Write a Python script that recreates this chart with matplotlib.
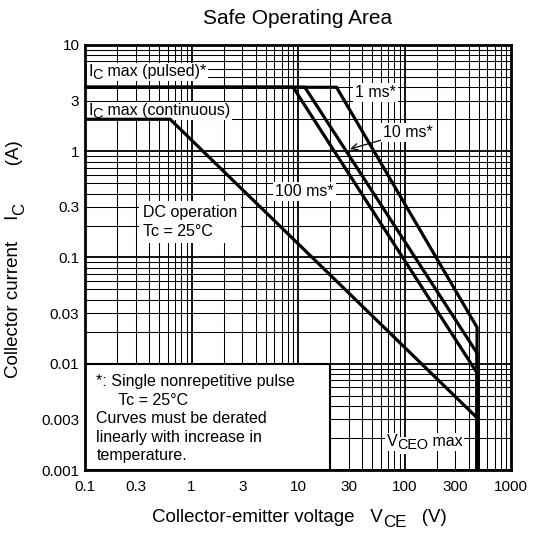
import matplotlib
matplotlib.use("Agg")
import matplotlib.pyplot as plt
from matplotlib.patches import Rectangle

plt.rcParams['font.family'] = ['Liberation Sans', 'DejaVu Sans']

# SOA curves (V_CE in V, I_C in A)
dc_v = [0.1, 0.63, 480, 480]
dc_i = [2.0, 2.0, 0.0031, 0.001]
p100_v = [0.1, 9.0, 480, 480]
p100_i = [4.0, 4.0, 0.0082, 0.001]
p10_v = [0.1, 11.6, 480, 480]
p10_i = [4.0, 4.0, 0.0126, 0.001]
p1_v = [0.1, 23.0, 480, 480]
p1_i = [4.0, 4.0, 0.022, 0.001]

x_ticks = [0.1, 0.3, 1, 3, 10, 30, 100, 300, 1000]
x_labels = ['0.1', '0.3', '1', '3', '10', '30', '100', '300', '1000']
y_ticks = [0.001, 0.003, 0.01, 0.03, 0.1, 0.3, 1, 3, 10]
y_labels = ['0.001', '0.003', '0.01', '0.03', '0.1', '0.3', '1', '3', '10']

fig = plt.figure(figsize=(5.33, 5.40), dpi=100)
ax = fig.add_axes([85 / 533, 1 - 470 / 540, 426 / 533, 425 / 540])
ax.set_xscale('log')
ax.set_yscale('log')
ax.set_xlim(0.1, 1000)
ax.set_ylim(0.001, 10)

# log grid: decades heavier than the 2..9 lines
for dec in [0.1, 1, 10, 100]:
    for m in range(1, 10):
        ax.axvline(dec * m, color='black', lw=1.3 if m == 1 else 0.75, zorder=1)
for dec in [0.001, 0.01, 0.1, 1]:
    for m in range(1, 10):
        ax.axhline(dec * m, color='black', lw=1.3 if m == 1 else 0.75, zorder=1)

# note box hides the grid in the lower left corner
ax.add_patch(Rectangle((0.1, 0.001), 20 - 0.1, 0.01 - 0.001, facecolor='white',
                       edgecolor='black', lw=1.5, zorder=3))

for v, i in [(dc_v, dc_i), (p100_v, p100_i), (p10_v, p10_i), (p1_v, p1_i)]:
    ax.plot(v, i, color='black', lw=2.3, solid_joinstyle='miter', zorder=7)

box = dict(facecolor='white', edgecolor='none', pad=1.5)
fs = 11.5


def chained(first, parts, size, vertical=False, bg=None, z=6.0):
    # put text pieces one after another; (text, drop) drop in points lowers a subscript
    prev, drop_prev = first, 0
    for k, (s, drop) in enumerate(parts):
        fsz = size * 0.9 if drop else size
        zz = z - 0.01 * (k + 1)
        if vertical:
            prev = ax.annotate(s, xy=(1, 1), xycoords=prev, xytext=(drop - drop_prev, 0),
                               textcoords='offset points', ha='right', va='bottom',
                               rotation=90, fontsize=fsz, annotation_clip=False, zorder=zz)
        else:
            prev = ax.annotate(s, xy=(1, 0), xycoords=prev, xytext=(0, drop_prev - drop),
                               textcoords='offset points', ha='left', va='bottom',
                               fontsize=fsz, annotation_clip=False, bbox=bg, zorder=zz)
        drop_prev = drop
    return prev


def plot_label(x, y, base, parts):
    bg = dict(facecolor='white', edgecolor='none', pad=1.0)
    t = ax.text(x, y, base, fontsize=fs, va='center', bbox=bg, zorder=6)
    chained(t, parts, fs, bg=bg)


plot_label(0.107, 5.6, 'I', [('C', 2), (' max (pulsed)*', 0)])
plot_label(0.107, 2.4, 'I', [('C', 2), (' max (continuous)', 0)])
plot_label(68, 0.00184, 'V', [('CEO', 2), (' max', 0)])
ax.text(34, 3.6, '1 ms*', fontsize=fs, va='center', bbox=box, zorder=5)
ax.text(6.1, 0.42, '100 ms*', fontsize=fs, va='center', bbox=box, zorder=5)
ax.text(0.35, 0.215, 'DC operation\nTc = 25°C', fontsize=fs, va='center',
        linespacing=1.35, bbox=dict(facecolor='white', edgecolor='none', pad=3), zorder=5)
ax.annotate('10 ms*', xy=(30.8, 1.05), xytext=(63, 1.5), fontsize=fs, va='center',
            bbox=box, zorder=5,
            arrowprops=dict(arrowstyle='->', color='black', lw=0.9, shrinkA=0, shrinkB=0))

ax.text(0.128, 0.0080, '*: Single nonrepetitive pulse\n     Tc = 25°C\n'
        'Curves must be derated\nlinearly with increase in\ntemperature.',
        fontsize=fs, va='top', linespacing=1.3, zorder=5)

ax.set_xticks(x_ticks)
ax.set_xticklabels(x_labels)
ax.set_yticks(y_ticks)
ax.set_yticklabels(y_labels)
ax.minorticks_off()
ax.tick_params(length=0, labelsize=11, pad=7)
ax.tick_params(axis='y', pad=4)
for s in ax.spines.values():
    s.set_linewidth(2)
    s.set_zorder(8)

ax.set_title('Safe Operating Area', fontsize=15, pad=15)

lab = 13.5
xl = fig.text(152 / 533, 1 - 517 / 540, 'Collector-emitter voltage   V', fontsize=lab, va='center')
chained(xl, [('CE', 3), ('   (V)', 0)], lab)
yl = fig.text(14 / 533, 1 - 378 / 540, 'Collector current    I', fontsize=lab,
              rotation=90, ha='center', va='bottom')
chained(yl, [('C', 3), ('       (A)', 0)], lab, vertical=True)

fig.savefig('out.png', dpi=100)
